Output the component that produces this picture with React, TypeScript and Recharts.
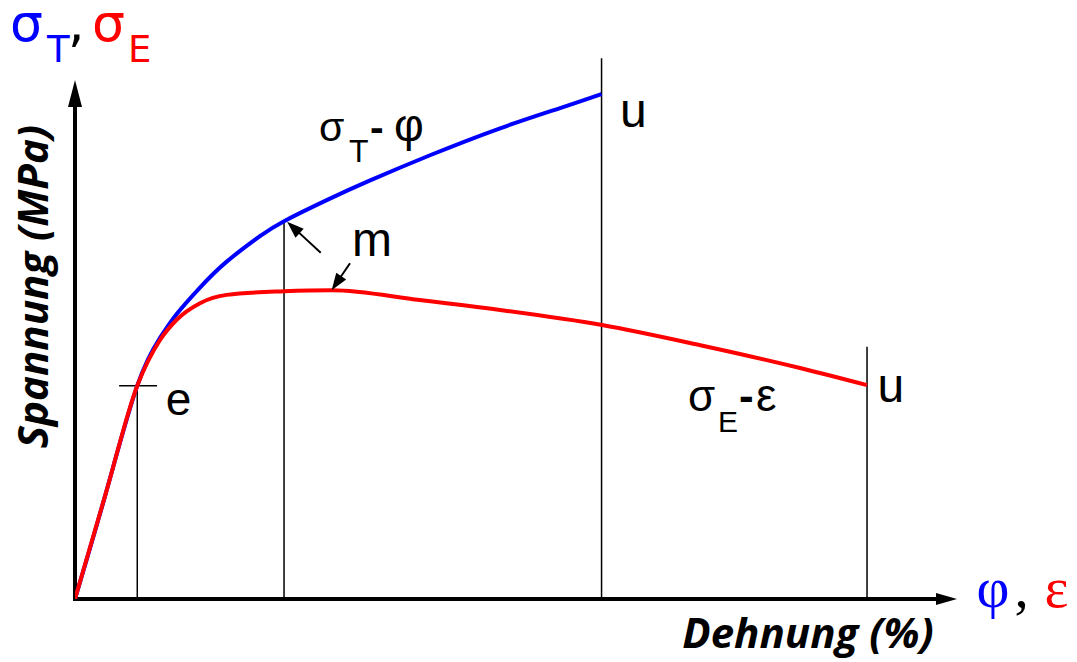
import { LineChart, Line, XAxis, YAxis, ReferenceLine, ReferenceDot } from 'recharts';

const BLUE = '#0000ff';
const RED = '#ff0000';

// Schematic stress-strain curves, both axes in % of axis length (no scale).
// sigma_T over phi (true stress / true strain)
const trueStrain = [0, 3.5, 7.06, 9.64, 11.53, 14.17, 17.2, 20.97, 23.7, 28.6, 33.4, 40.25, 48.2, 55.0, 59.7];
const trueStress = [0, 20.4, 41.1, 50.3, 54.9, 60.0, 65.0, 69.9, 72.8, 76.9, 80.6, 85.5, 90.7, 94.6, 97.3];
// sigma_E over epsilon (engineering stress / strain)
const engStrain = [0, 3.5, 7.06, 9.64, 11.53, 14.17, 17.2, 23.7, 29.1, 39.1, 48.2, 59.75, 70.9, 82.2, 89.8];
const engStress = [0, 20.4, 41.1, 49.9, 53.8, 57.0, 58.6, 59.3, 59.5, 57.6, 55.7, 52.8, 48.9, 44.5, 41.2];

// characteristic points: e = elastic limit, m = max load, u = fracture
const pointE = { x: 7.06, y: 41.1 };
const pointM = { x: 23.7, y: 72.8 };
const peakEng = { x: 29.1, y: 59.5 };
const fractureTrue = { x: 59.7, y: 97.3, top: 104.2 };
const fractureEng = { x: 89.8, y: 41.2, top: 48.6 };

const trueData = trueStrain.map((x, i) => ({ x, y: trueStress[i] }));
const engData = engStrain.map((x, i) => ({ x, y: engStress[i] }));

const SANS = '"Liberation Sans", Arial, sans-serif';
const SERIF = '"Liberation Serif", "Times New Roman", serif';
const TITLE = '"Open Sans", sans-serif';

// line with a filled head at (x2, y2)
const arrow = (width: number, headLen: number, headHalf: number, cap: 'butt' | 'square' = 'butt') =>
  (p: any) => {
    const { x1, y1, x2, y2 } = p;
    const len = Math.hypot(x2 - x1, y2 - y1);
    const ux = (x2 - x1) / len;
    const uy = (y2 - y1) / len;
    const bx = x2 - ux * headLen;
    const by = y2 - uy * headLen;
    const nx = -uy * headHalf;
    const ny = ux * headHalf;
    return (
      <g>
        <line x1={x1} y1={y1} x2={bx + ux * 2} y2={by + uy * 2} stroke="#000" strokeWidth={width} strokeLinecap={cap} />
        <polygon points={`${x2},${y2} ${bx + nx},${by + ny} ${bx - nx},${by - ny}`} fill="#000" />
      </g>
    );
  };

const thin = { stroke: '#000', strokeWidth: 1.5 };

const plainText = (text: string, size: number, family = SANS) => (p: any) => (
  <text x={p.cx} y={p.cy} fontFamily={family} fontSize={size} fill="#000">
    {text}
  </text>
);

const AxisNames = (p: any) => (
  <text x={p.cx} y={p.cy} fontFamily='"DejaVu Sans", sans-serif' fontSize={52}>
    <tspan fill={BLUE}>σ</tspan>
    <tspan x={p.cx + 37} dy={21} fill={BLUE} fontSize={37}>T</tspan>
    <tspan x={p.cx + 58} dy={-21} fill="#000">,</tspan>
    <tspan x={p.cx + 82} fill={RED}>σ</tspan>
    <tspan x={p.cx + 118} dy={21} fill={RED} fontSize={37}>E</tspan>
  </text>
);

const TrueCurveName = (p: any) => (
  <text x={p.cx} y={p.cy} fontFamily={SANS} fontSize={41} fill="#000">
    <tspan>σ</tspan>
    <tspan x={p.cx + 30} dy={21} fontSize={32}>T</tspan>
    <tspan x={p.cx + 51} dy={-21} fontWeight={700}>-</tspan>
    <tspan x={p.cx + 75} fontSize={46}>φ</tspan>
  </text>
);

const EngCurveName = (p: any) => (
  <text x={p.cx} y={p.cy} fontFamily={SANS} fontSize={44} fill="#000">
    <tspan>σ</tspan>
    <tspan x={p.cx + 30} dy={20.5} fontSize={30}>E</tspan>
    <tspan x={p.cx + 51} dy={-20.5} fontWeight={700}>-</tspan>
    <tspan x={p.cx + 68} fontSize={46}>ε</tspan>
  </text>
);

const StrainNames = (p: any) => (
  <text x={p.cx} y={p.cy} fontFamily={SERIF} fontSize={57}>
    <tspan fill={BLUE}>φ</tspan>
    <tspan x={p.cx + 38} fill="#000">,</tspan>
    <tspan x={p.cx + 68} fill={RED}>ε</tspan>
  </text>
);

const XTitle = (p: any) => (
  <text x={p.cx} y={p.cy} textAnchor="middle" fontFamily={TITLE} fontWeight={700} fontStyle="italic" fontSize={42} fill="#000">
    Dehnung (%)
  </text>
);

const YTitle = (p: any) => (
  <text
    x={p.cx}
    y={p.cy}
    transform={`rotate(-90 ${p.cx} ${p.cy})`}
    textAnchor="middle"
    fontFamily={TITLE}
    fontWeight={700}
    fontStyle="italic"
    fontSize={42}
    fill="#000"
  >
    Spannung (MPa)
  </text>
);

export default function App() {
  return (
    <div style={{ position: 'absolute', left: 0, top: 0, background: '#fff' }}>
      <LineChart width={1077} height={662} margin={{ top: 80, right: 120, bottom: 0, left: 0 }}>
        <XAxis type="number" dataKey="x" domain={[0, 100]} allowDataOverflow height={63} axisLine={false} tick={false} tickLine={false} />
        <YAxis type="number" dataKey="y" domain={[0, 100]} allowDataOverflow width={75} axisLine={false} tick={false} tickLine={false} />

        {/* axes with arrow heads */}
        <ReferenceLine segment={[{ x: 0, y: 0 }, { x: 100, y: 0 }]} ifOverflow="visible" shape={arrow(4, 21, 6, 'square')} />
        <ReferenceLine segment={[{ x: 0, y: 0 }, { x: 0, y: 100 }]} ifOverflow="visible" shape={arrow(4, 27, 7, 'square')} />

        {/* drop lines at e, m, u */}
        <ReferenceLine segment={[{ x: pointE.x, y: 0 }, { x: pointE.x, y: pointE.y }]} ifOverflow="visible" {...thin} />
        <ReferenceLine segment={[{ x: 5.0, y: pointE.y }, { x: 9.3, y: pointE.y }]} ifOverflow="visible" {...thin} />
        <ReferenceLine segment={[{ x: pointM.x, y: 0 }, { x: pointM.x, y: pointM.y }]} ifOverflow="visible" {...thin} />
        <ReferenceLine segment={[{ x: fractureTrue.x, y: 0 }, { x: fractureTrue.x, y: fractureTrue.top }]} ifOverflow="visible" {...thin} />
        <ReferenceLine segment={[{ x: fractureEng.x, y: 0 }, { x: fractureEng.x, y: fractureEng.top }]} ifOverflow="visible" {...thin} />

        <Line data={trueData} dataKey="y" type="natural" stroke={BLUE} strokeWidth={4} dot={false} isAnimationActive={false} />
        <Line data={engData} dataKey="y" type="monotone" stroke={RED} strokeWidth={4} dot={false} isAnimationActive={false} />

        {/* pointers to m on both curves */}
        <ReferenceLine segment={[{ x: 27.86, y: 66.7 }, { x: pointM.x + 0.35, y: pointM.y - 0.1 }]} ifOverflow="visible" shape={arrow(2, 17, 6)} />
        <ReferenceLine segment={[{ x: 31.18, y: 64.7 }, { x: peakEng.x, y: peakEng.y }]} ifOverflow="visible" shape={arrow(2, 17, 6)} />

        {/* labels */}
        <ReferenceDot x={-7.37} y={107.5} r={0} ifOverflow="visible" shape={AxisNames} />
        <ReferenceDot x={102.2} y={-1.54} r={0} ifOverflow="visible" shape={StrainNames} />
        <ReferenceDot x={83.1} y={-9.44} r={0} ifOverflow="visible" shape={XTitle} />
        <ReferenceDot x={-3.06} y={60.2} r={0} ifOverflow="visible" shape={YTitle} />
        <ReferenceDot x={27.66} y={88.25} r={0} ifOverflow="visible" shape={TrueCurveName} />
        <ReferenceDot x={69.5} y={36.2} r={0} ifOverflow="visible" shape={EngCurveName} />
        <ReferenceDot x={10.3} y={35.45} r={0} ifOverflow="visible" shape={plainText('e', 46)} />
        <ReferenceDot x={31.4} y={66.1} r={0} ifOverflow="visible" shape={plainText('m', 48)} />
        <ReferenceDot x={61.8} y={91.0} r={0} ifOverflow="visible" shape={plainText('u', 48)} />
        <ReferenceDot x={91.0} y={37.9} r={0} ifOverflow="visible" shape={plainText('u', 48)} />
      </LineChart>
    </div>
  );
}
